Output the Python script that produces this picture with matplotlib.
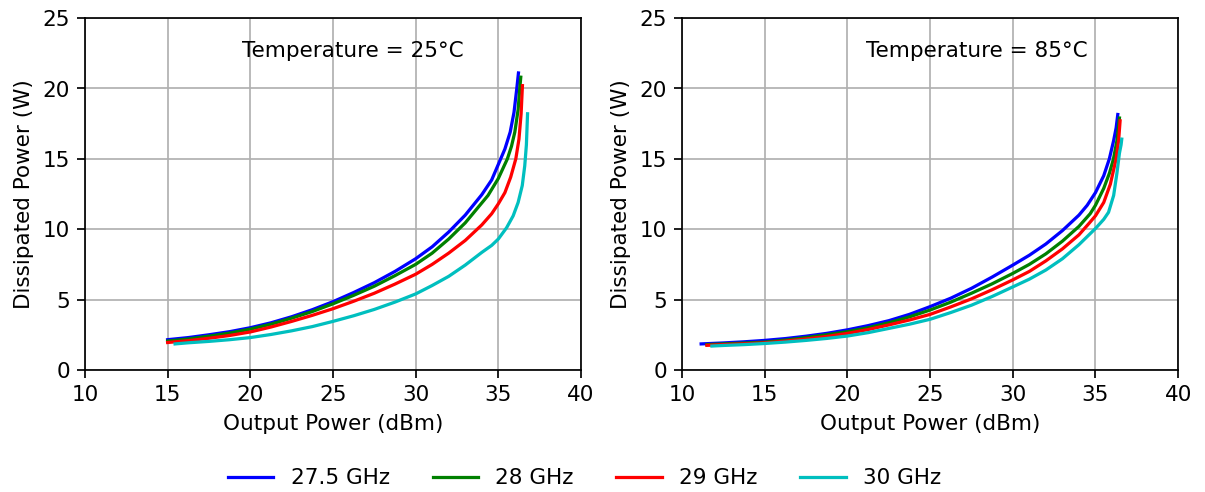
import matplotlib.pyplot as plt

freqs = ['27.5 GHz', '28 GHz', '29 GHz', '30 GHz']
colors = ['b', 'g', 'r', 'c']

# Temperature = 25 C: output power (dBm) and dissipated power (W)
x25_275 = [15, 16.25, 17.5, 18.75, 20, 21.25, 22.5, 23.75, 25, 26.25, 27.5, 28.75,
           30, 31, 32, 33, 34, 34.6, 35.0, 35.4, 35.72, 35.95, 36.12, 36.22]
y25_275 = [2.15, 2.3, 2.5, 2.72, 3.0, 3.35, 3.78, 4.28, 4.85, 5.5, 6.2, 7.0,
           7.9, 8.75, 9.8, 11.0, 12.45, 13.5, 14.6, 15.7, 16.9, 18.3, 20.0, 21.1]

x25_28 = [15, 16.25, 17.5, 18.75, 20, 21.25, 22.5, 23.75, 25, 26.25, 27.5, 28.75,
          30, 31, 32, 33, 34.38, 35.0, 35.55, 35.8, 36.0, 36.2, 36.3, 36.36]
y25_28 = [2.05, 2.2, 2.4, 2.62, 2.9, 3.25, 3.68, 4.15, 4.7, 5.3, 5.95, 6.7,
          7.5, 8.3, 9.3, 10.45, 12.4, 13.6, 15.0, 15.9, 16.9, 18.5, 20.0, 20.8]

x25_29 = [15, 16.25, 17.5, 18.75, 20, 21.25, 22.5, 23.75, 25, 26.25, 27.5, 28.75,
          30, 31, 32, 33, 34, 34.6, 35.0, 35.4, 35.75, 36.06, 36.25, 36.38, 36.46]
y25_29 = [1.95, 2.08, 2.25, 2.45, 2.7, 3.05, 3.45, 3.88, 4.35, 4.88, 5.45, 6.1,
          6.8, 7.5, 8.3, 9.2, 10.3, 11.1, 11.8, 12.6, 13.7, 15.0, 16.4, 18.2, 20.2]

x25_30 = [15.45, 16.25, 17.5, 18.75, 20, 21.25, 22.5, 23.75, 25, 26.25, 27.5, 28.75,
          30, 31, 32, 33, 34, 34.6, 35.0, 35.5, 35.9, 36.2, 36.45, 36.6, 36.7, 36.77]
y25_30 = [1.85, 1.93, 2.03, 2.15, 2.3, 2.52, 2.78, 3.08, 3.45, 3.85, 4.3, 4.82,
          5.4, 6.0, 6.65, 7.45, 8.35, 8.85, 9.3, 10.1, 10.95, 11.9, 13.1, 14.5, 16.0, 18.2]

# Temperature = 85 C
x85_275 = [11.15, 12.5, 13.75, 15, 16.25, 17.5, 18.75, 20, 21.25, 22.5, 23.75, 25,
           26.25, 27.5, 28.75, 30, 31, 32, 33, 34, 34.5, 35, 35.5, 35.84, 36.1,
           36.25, 36.35]
y85_275 = [1.85, 1.92, 2.0, 2.1, 2.23, 2.4, 2.6, 2.85, 3.15, 3.5, 3.95, 4.5,
           5.1, 5.8, 6.6, 7.45, 8.15, 8.95, 9.9, 11.0, 11.7, 12.6, 13.8, 15.0, 16.3,
           17.2, 18.15]

x85_28 = [11.5, 12.5, 13.75, 15, 16.25, 17.5, 18.75, 20, 21.25, 22.5, 23.75, 25,
          26.25, 27.5, 28.75, 30, 31, 32, 33, 34, 34.68, 35, 35.5, 35.85, 36.09,
          36.3, 36.45]
y85_28 = [1.8, 1.85, 1.91, 1.98, 2.12, 2.3, 2.5, 2.72, 3.0, 3.35, 3.77, 4.26,
          4.82, 5.45, 6.12, 6.86, 7.5, 8.25, 9.15, 10.2, 11.1, 11.7, 12.9, 14.0, 15.0,
          16.3, 17.9]

x85_29 = [11.5, 12.5, 13.75, 15, 16.25, 17.5, 18.75, 20, 21.25, 22.5, 23.75, 25,
          26.25, 27.5, 28.75, 30, 31, 32, 33, 34, 34.6, 35.0, 35.5, 35.9, 36.25,
          36.4, 36.49]
y85_29 = [1.75, 1.8, 1.86, 1.93, 2.05, 2.2, 2.38, 2.6, 2.87, 3.2, 3.55, 3.95,
          4.48, 5.05, 5.7, 6.4, 7.0, 7.75, 8.6, 9.6, 10.4, 10.95, 11.9, 13.2, 15.0,
          16.3, 17.7]

x85_30 = [11.8, 12.5, 13.75, 15, 16.25, 17.5, 18.75, 20, 21.25, 22.5, 23.75, 25,
          26.25, 27.5, 28.75, 30, 31, 32, 33, 34, 35, 35.5, 35.79, 36.1, 36.3,
          36.45, 36.55, 36.59]
y85_30 = [1.7, 1.74, 1.8, 1.88, 1.98, 2.1, 2.24, 2.41, 2.65, 2.95, 3.25, 3.6,
          4.08, 4.6, 5.22, 5.9, 6.45, 7.1, 7.9, 8.9, 10.05, 10.7, 11.2, 12.4, 14.0,
          15.4, 16.0, 16.4]

fig, axes = plt.subplots(1, 2, figsize=(7.775, 3.175), dpi=155)
fig.subplots_adjust(left=0.0705, right=0.9776, top=0.963, bottom=0.248,
                    wspace=0.204)

panels = [
    ([x25_275, x25_28, x25_29, x25_30], [y25_275, y25_28, y25_29, y25_30],
     'Temperature = 25°C', 19.5),
    ([x85_275, x85_28, x85_29, x85_30], [y85_275, y85_28, y85_29, y85_30],
     'Temperature = 85°C', 21.15),
]

for ax, (xs, ys, title, tx) in zip(axes, panels):
    for x, y, f, c in zip(xs, ys, freqs, colors):
        ax.plot(x, y, color=c, lw=1.5, label=f)
    ax.text(tx, 22.7, title, ha='left', va='center')
    ax.set_xlim(10, 40)
    ax.set_ylim(0, 25)
    ax.set_xlabel('Output Power (dBm)')
    ax.set_ylabel('Dissipated Power (W)')
    ax.grid(True)

handles, labels = axes[0].get_legend_handles_labels()
fig.legend(handles, labels, loc='center', bbox_to_anchor=(0.485, 0.028),
           ncol=4, frameon=False, handlelength=2.1, columnspacing=2.0)

fig.savefig('out.png')
